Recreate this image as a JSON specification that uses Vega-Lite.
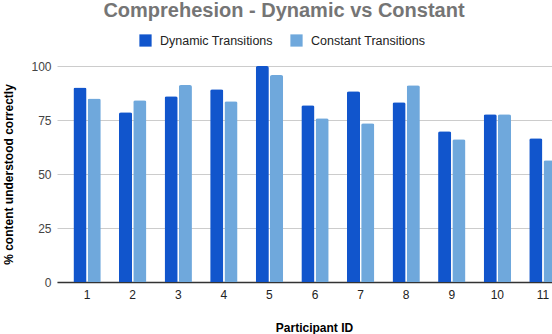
{
  "$schema": "https://vega.github.io/schema/vega-lite/v6.json",
  "width": 516,
  "height": 216,
  "autosize": "none",
  "padding": {"left": 57, "top": 66, "right": 0, "bottom": 52},
  "background": "white",
  "title": {
    "text": "Comprehesion - Dynamic vs Constant",
    "font": "Liberation Sans",
    "fontSize": 20,
    "fontWeight": "bold",
    "color": "#757575",
    "anchor": "middle",
    "frame": "group",
    "dx": -31,
    "offset": 13
  },
  "data": {
    "values": [
      {"participant": "1", "series": "Dynamic Transitions", "value": 90},
      {"participant": "1", "series": "Constant Transitions", "value": 85},
      {"participant": "2", "series": "Dynamic Transitions", "value": 78.6},
      {"participant": "2", "series": "Constant Transitions", "value": 84.1},
      {"participant": "3", "series": "Dynamic Transitions", "value": 86},
      {"participant": "3", "series": "Constant Transitions", "value": 91.2},
      {"participant": "4", "series": "Dynamic Transitions", "value": 89.2},
      {"participant": "4", "series": "Constant Transitions", "value": 83.7},
      {"participant": "5", "series": "Dynamic Transitions", "value": 100},
      {"participant": "5", "series": "Constant Transitions", "value": 95.8},
      {"participant": "6", "series": "Dynamic Transitions", "value": 81.8},
      {"participant": "6", "series": "Constant Transitions", "value": 75.8},
      {"participant": "7", "series": "Dynamic Transitions", "value": 88.3},
      {"participant": "7", "series": "Constant Transitions", "value": 73.5},
      {"participant": "8", "series": "Dynamic Transitions", "value": 83.2},
      {"participant": "8", "series": "Constant Transitions", "value": 91.1},
      {"participant": "9", "series": "Dynamic Transitions", "value": 69.8},
      {"participant": "9", "series": "Constant Transitions", "value": 66.1},
      {"participant": "10", "series": "Dynamic Transitions", "value": 77.7},
      {"participant": "10", "series": "Constant Transitions", "value": 77.7},
      {"participant": "11", "series": "Dynamic Transitions", "value": 66.6},
      {"participant": "11", "series": "Constant Transitions", "value": 56.4}
    ]
  },
  "mark": {"type": "bar", "cornerRadiusTopLeft": 2, "cornerRadiusTopRight": 2},
  "encoding": {
    "x": {
      "field": "participant",
      "type": "nominal",
      "sort": ["1","2","3","4","5","6","7","8","9","10","11"],
      "scale": {"paddingInner": 0.4, "paddingOuter": 0.36},
      "axis": {
        "title": "Participant ID",
        "titleFont": "Liberation Sans",
        "titleFontSize": 12,
        "titleFontWeight": "bold",
        "titleColor": "#000000",
        "titleX": 257,
        "titlePadding": 22,
        "labelAngle": 0,
        "labelFont": "Liberation Sans",
        "labelFontSize": 12,
        "labelColor": "#222222",
        "labelPadding": 7,
        "ticks": false,
        "domainColor": "#333333",
        "domainWidth": 1.5
      }
    },
    "xOffset": {
      "field": "series",
      "type": "nominal",
      "sort": ["Dynamic Transitions", "Constant Transitions"],
      "scale": {"paddingInner": 0.08}
    },
    "y": {
      "field": "value",
      "type": "quantitative",
      "scale": {"domain": [0, 100], "nice": false},
      "axis": {
        "title": "% content understood correctly",
        "titleFont": "Liberation Sans",
        "titleFontSize": 12,
        "titleFontWeight": "bold",
        "titleColor": "#000000",
        "titlePadding": 15,
        "values": [0, 25, 50, 75, 100],
        "labelFont": "Liberation Sans",
        "labelFontSize": 12,
        "labelColor": "#444444",
        "labelPadding": 6,
        "ticks": false,
        "domain": false,
        "gridColor": "#cccccc",
        "gridWidth": 1
      }
    },
    "color": {
      "field": "series",
      "type": "nominal",
      "sort": ["Dynamic Transitions", "Constant Transitions"],
      "scale": {"domain": ["Dynamic Transitions", "Constant Transitions"], "range": ["#1155cc", "#6fa8dc"]},
      "legend": {
        "title": null,
        "orient": "none",
        "legendX": 82,
        "legendY": -32,
        "direction": "horizontal",
        "symbolType": "square",
        "symbolSize": 150,
        "symbolStrokeWidth": 0,
        "symbolOpacity": 1,
        "labelFont": "Liberation Sans",
        "labelFontSize": 12.5,
        "labelColor": "#222222",
        "labelOffset": 8,
        "columnPadding": 17
      }
    }
  },
  "config": {"view": {"stroke": null}}
}
